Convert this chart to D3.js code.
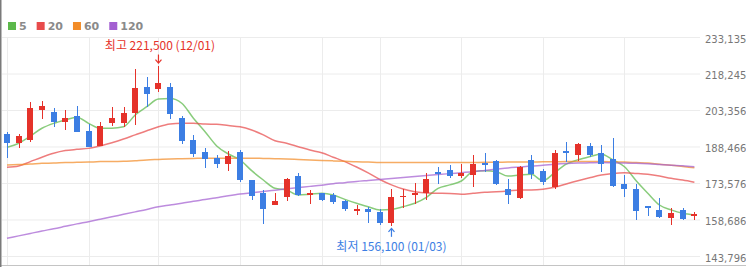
<!DOCTYPE html>
<html>
<head>
<meta charset="utf-8">
<script src="https://cdn.jsdelivr.net/npm/d3@7"></script>
<style>
  html, body { margin: 0; padding: 0; background: #fff; overflow: hidden; }
  svg { display: block; }
</style>
</head>
<body>
<div id="chart"></div>
<script>
// Données
const opens = [
  193600, 190000, 191100, 203400, 202700, 198500, 200900, 194800, 188700, 197900,
  197900, 202000, 212600, 211800, 212600, 200200, 191100, 186100, 183900, 181300,
  186400, 174800, 169400, 164700, 167800, 176600, 168600, 169400, 168700, 166400,
  162300, 163000, 161900, 157100, 167800, 168700, 169600, 178200, 178900, 176600,
  176800, 181600, 182600, 171300, 167300, 182900, 178600, 172100, 186600, 185000,
  188700, 185700, 183200, 173000, 171100, 164200, 162600, 159200, 162600, 160100
];
const highs = [
  194500, 193600, 206500, 206900, 204000, 203400, 205000, 197500, 198600, 204500,
  204600, 220000, 216700, 221500, 214500, 200900, 193200, 188000, 185000, 186800,
  187000, 175000, 170700, 169400, 175500, 177800, 170700, 169600, 169400, 166600,
  164600, 163900, 162800, 171300, 171100, 173700, 177500, 180300, 180900, 181500,
  185000, 185700, 182900, 175100, 180600, 185000, 179200, 187000, 190200, 189800,
  189800, 189100, 191800, 176800, 173200, 164300, 167300, 163500, 163300, 161600
];
const lows = [
  183800, 187900, 190400, 199800, 196300, 195200, 194300, 188100, 188600, 196800,
  196600, 197200, 204700, 210800, 199600, 189400, 184300, 179600, 179600, 178600,
  174100, 166600, 156900, 164600, 166400, 168300, 165100, 166200, 165200, 162300,
  160400, 157300, 156400, 156100, 163500, 165200, 166600, 173200, 175700, 175500,
  172100, 178200, 172800, 165100, 167100, 175100, 172800, 171000, 182300, 182600,
  184300, 178200, 172100, 167800, 158500, 160100, 159200, 156300, 158500, 158500
];
const closes = [
  190000, 192700, 204000, 205000, 198300, 200200, 194500, 188400, 196800, 200000,
  202300, 212200, 209800, 214500, 201700, 190700, 185400, 183200, 181300, 184700,
  174700, 168400, 163000, 166400, 175200, 168700, 169400, 166600, 165800, 163000,
  162800, 161800, 157100, 168000, 168300, 169600, 175100, 177100, 176600, 177800,
  181300, 181200, 173000, 168700, 180000, 177200, 174100, 185700, 185900, 189400,
  185000, 181300, 172200, 171300, 162300, 163500, 159600, 161500, 158800, 160800
];

// Moyennes mobiles
const ma5 = [
  188100, 189800, 192700, 195900, 197900, 199300, 200400, 197900, 195900, 195900,
  196500, 201300, 204700, 207800, 208000, 206100, 200000, 194500, 188700, 185400,
  183000, 178600, 174800, 171400, 170700, 168700, 169000, 169400, 168700, 166900,
  165300, 163900, 162600, 162800, 163900, 165300, 167700, 171400, 172800, 174400,
  178200, 178600, 178200, 176400, 176800, 177100, 174500, 177800, 181300, 183000,
  184300, 185400, 183000, 180200, 174500, 169400, 164600, 162600, 161200, 160500
];
const ma20 = [
  180000, 180500, 182300, 184100, 185700, 186800, 187300, 187700, 188700, 190000,
  191500, 193200, 194900, 196500, 197600, 197900, 197900, 197600, 197500, 197000,
  196500, 195200, 193200, 190800, 189800, 188400, 187000, 185900, 184100, 182300,
  180100, 177700, 175000, 172800, 171100, 170000, 169500, 169400, 169300, 169000,
  169400, 169800, 170000, 170300, 170700, 170700, 171000, 171800, 173200, 174500,
  175700, 176800, 177500, 177800, 177500, 177100, 176400, 175500, 174800, 173900
];
const ma60 = [
  180900, 181100, 181300, 181600, 181700, 181900, 182000, 182100, 182300, 182300,
  182400, 182700, 183000, 183200, 183400, 183500, 183600, 183700, 183700, 183700,
  183700, 183700, 183600, 183500, 183400, 183200, 183000, 182800, 182600, 182400,
  182200, 182100, 181900, 181900, 181900, 181900, 181900, 181900, 181900, 181900,
  181900, 182000, 182000, 182100, 182100, 182100, 182200, 182200, 182300, 182300,
  182300, 182300, 182200, 182100, 181900, 181700, 181200, 180800, 180300, 179800
];
const ma120 = [
  151000, 152000, 153000, 154000, 154900, 155900, 156900, 157800, 158800, 159800,
  160800, 161800, 162800, 163900, 164600, 165300, 166100, 166800, 167600, 168400,
  169100, 169600, 170100, 170600, 171200, 171700, 172200, 172700, 173300, 173700,
  174200, 174600, 175000, 175400, 175800, 176200, 176600, 177000, 177400, 177800,
  178200, 178700, 179200, 179700, 180100, 180500, 180800, 181200, 181500, 181700,
  181800, 181900, 181800, 181700, 181600, 181400, 181100, 180800, 180600, 180200
];

const maNames = ["5", "20", "60", "120"];
const maColors = ["#5cb84a", "#e84b4b", "#f28c28", "#a35fd1"];
const maSeries = [ma5, ma20, ma60, ma120];

// Axe des prix
const yTicks = [233135, 218245, 203356, 188466, 173576, 158686, 143796];
// Lignes verticales (indices de bougies)
const gridIdx = [0, 7, 13, 20, 27, 32, 39, 46, 53];

// Annotations haut / bas
const highLabel = { idx: 13, text: "최고 221,500 (12/01)" };
const lowLabel = { idx: 33, text: "최저 156,100 (01/03)" };

const width = 746;
const height = 267;
const red = "#e5322a";
const blue = "#3c7ee3";

const svg = d3
  .select("#chart")
  .append("svg")
  .attr("width", width)
  .attr("height", height);

const x = d3.scaleLinear().domain([0, opens.length - 1]).range([7, 694.4]);
const y = d3.scaleLinear().domain([143796, 233135]).range([256, 37]);

// Grille verticale
svg
  .append("g")
  .selectAll("line")
  .data(gridIdx)
  .join("line")
  .attr("x1", (d) => Math.round(x(d)) + 0.5)
  .attr("x2", (d) => Math.round(x(d)) + 0.5)
  .attr("y1", y(233135))
  .attr("y2", 266)
  .attr("stroke", "#ececec");

// Axe de droite + grille horizontale
svg
  .append("g")
  .attr("transform", "translate(700,0)")
  .call(
    d3.axisRight(y)
      .tickValues(yTicks)
      .tickSize(-698)
      .tickPadding(5)
      .tickFormat(d3.format(","))
  )
  .call((g) => g.select(".domain").remove())
  .call((g) => g.selectAll(".tick line").attr("stroke", "#ececec"))
  .call((g) =>
    g.selectAll(".tick text")
      .attr("fill", "#777")
      .attr("font-family", "DejaVu Sans, sans-serif")
      .attr("font-size", 10)
      .attr("dy", "0.5em")
  );

// Bordures
svg.append("line")
  .attr("x1", 0).attr("x2", width)
  .attr("y1", 265.5).attr("y2", 265.5)
  .attr("stroke", "#c4c4c4");
svg.append("line")
  .attr("x1", 0.75).attr("x2", 0.75)
  .attr("y1", 0).attr("y2", height)
  .attr("stroke", "#7a7a7a")
  .attr("stroke-width", 1.5);

// Moyennes mobiles
const line = d3
  .line()
  .x((d, i) => x(i))
  .y((d) => y(d))
  .curve(d3.curveMonotoneX);

svg
  .append("g")
  .selectAll("path")
  .data(maSeries)
  .join("path")
  .attr("d", line)
  .attr("fill", "none")
  .attr("stroke", (d, i) => maColors[i])
  .attr("stroke-width", 1.5)
  .attr("stroke-opacity", 0.72);

// Bougies
const candles = opens.map((o, i) => ({
  i: i,
  o: o,
  h: highs[i],
  l: lows[i],
  c: closes[i],
  up: closes[i] >= o
}));

const gC = svg.append("g").attr("shape-rendering", "crispEdges");

gC.selectAll("rect.wick")
  .data(candles)
  .join("rect")
  .attr("class", "wick")
  .attr("x", (d) => Math.round(x(d.i)) - 0.5)
  .attr("width", 1)
  .attr("y", (d) => y(d.h))
  .attr("height", (d) => y(d.l) - y(d.h))
  .attr("fill", (d) => (d.up ? red : blue));

gC.selectAll("rect.body")
  .data(candles)
  .join("rect")
  .attr("class", "body")
  .attr("x", (d) => Math.round(x(d.i)) - 3)
  .attr("width", 6)
  .attr("y", (d) => y(Math.max(d.o, d.c)))
  .attr("height", (d) => Math.max(1.5, Math.abs(y(d.o) - y(d.c))))
  .attr("fill", (d) => (d.up ? red : blue));

// Annotation du plus haut
const hx = x(highLabel.idx);
const hy = y(highs[highLabel.idx]);
svg.append("line")
  .attr("x1", hx).attr("x2", hx)
  .attr("y1", hy - 11).attr("y2", hy - 3)
  .attr("stroke", red).attr("stroke-width", 1.2);
svg.append("path")
  .attr("d", `M${hx - 3},${hy - 6} L${hx},${hy - 2.5} L${hx + 3},${hy - 6}`)
  .attr("fill", "none").attr("stroke", red).attr("stroke-width", 1.2);
svg.append("text")
  .attr("x", hx + 1.5)
  .attr("y", hy - 16)
  .attr("text-anchor", "middle")
  .attr("font-family", "Noto Sans CJK KR, sans-serif")
  .attr("font-size", 12)
  .attr("fill", red)
  .text(highLabel.text);

// Annotation du plus bas
const lx = x(lowLabel.idx);
const ly = y(lows[lowLabel.idx]);
svg.append("line")
  .attr("x1", lx).attr("x2", lx)
  .attr("y1", ly + 3).attr("y2", ly + 11)
  .attr("stroke", blue).attr("stroke-width", 1.2);
svg.append("path")
  .attr("d", `M${lx - 3},${ly + 6} L${lx},${ly + 2.5} L${lx + 3},${ly + 6}`)
  .attr("fill", "none").attr("stroke", blue).attr("stroke-width", 1.2);
svg.append("text")
  .attr("x", lx)
  .attr("y", ly + 25)
  .attr("text-anchor", "middle")
  .attr("font-family", "Noto Sans CJK KR, sans-serif")
  .attr("font-size", 12)
  .attr("fill", blue)
  .text(lowLabel.text);

// Légende
const legend = svg.append("g");
let lxPos = 8;
maNames.forEach((name, i) => {
  legend.append("rect")
    .attr("x", lxPos).attr("y", 22)
    .attr("width", 8).attr("height", 8)
    .attr("fill", maColors[i]);
  const t = legend.append("text")
    .attr("x", lxPos + 11)
    .attr("y", 30)
    .attr("font-family", "DejaVu Sans, sans-serif")
    .attr("font-size", 11)
    .attr("font-weight", "bold")
    .attr("fill", "#8a8a8a")
    .text(name);
  lxPos += 11 + t.node().getComputedTextLength() + 10;
});
</script>
</body>
</html>
